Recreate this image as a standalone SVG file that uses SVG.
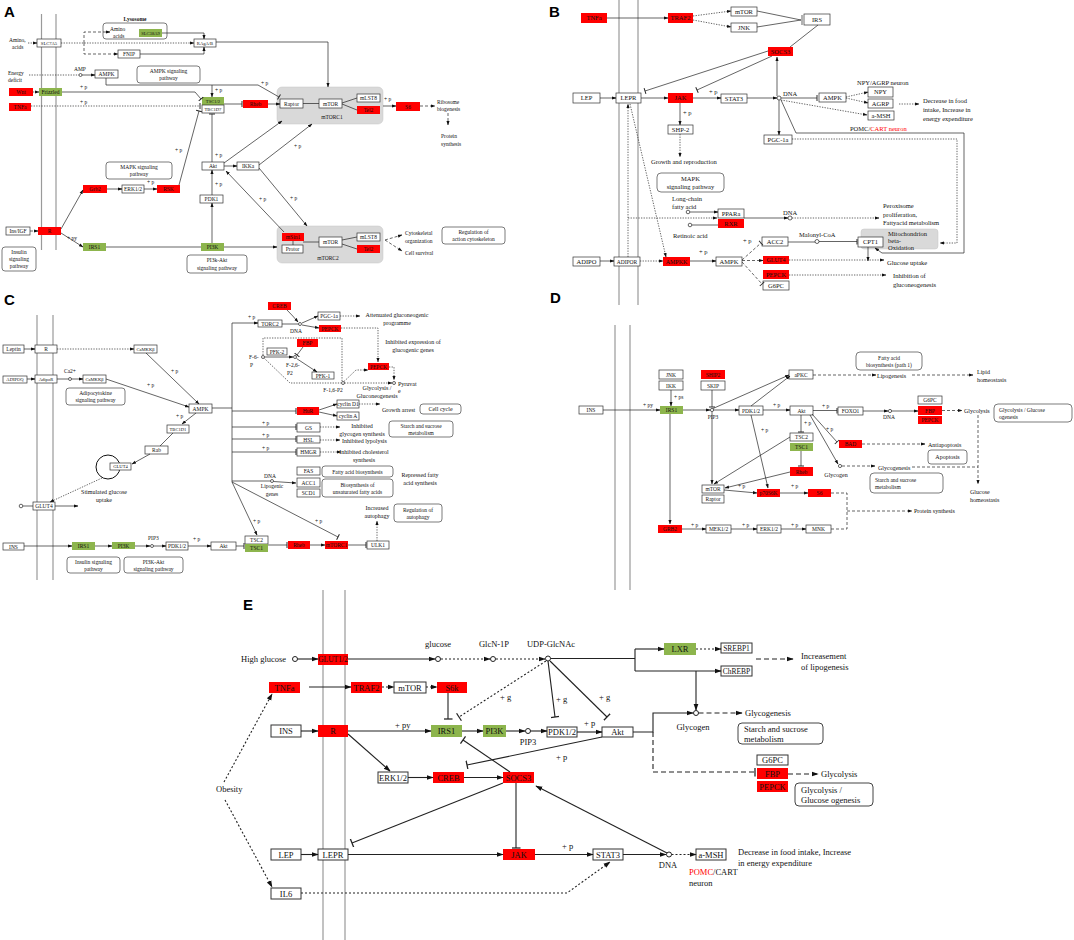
<svg xmlns="http://www.w3.org/2000/svg" width="1074" height="940" viewBox="0 0 1074 940">
<style>
text{font-family:"Liberation Serif","Times New Roman",serif;fill:#111}
.c{text-anchor:middle}
.s4{font-size:4.6px}.s5{font-size:5.5px}.s6{font-size:6px}.s65{font-size:6.5px}.s8{font-size:8.5px}.s7{font-size:7.5px}
.L{font-family:"Liberation Sans",Arial,sans-serif;font-weight:bold;font-size:15px;fill:#000}
.w{fill:#fff;stroke:#333;stroke-width:.7}
.we{fill:#fff;stroke:#333;stroke-width:1}
.r{fill:#f00}.g{fill:#8db54d}
.gb{fill:#d9d9d9;stroke:#c4c4c4;stroke-width:.5}
.rb{fill:#fff;stroke:#444;stroke-width:.7}
.rbe{fill:#fff;stroke:#444;stroke-width:1}
.ln{fill:none;stroke:#222;stroke-width:.7}
.le{fill:none;stroke:#222;stroke-width:1.1}
.dt{stroke-dasharray:1.3 1.3}
.ds{stroke-dasharray:3 2}
.dte{stroke-dasharray:2 2}
.dse{stroke-dasharray:5 3}
.mem{stroke:#9a9a9a;stroke-width:1.2;fill:none}
.o{fill:#fff;stroke:#222;stroke-width:.7}
.oe{fill:#fff;stroke:#222;stroke-width:1}
.red{fill:#f00}
</style>
<defs>
<marker id="a" viewBox="0 0 10 10" refX="9" refY="5" markerWidth="4.5" markerHeight="4.5" markerUnits="userSpaceOnUse" orient="auto"><path d="M0,1.5L10,5L0,8.5z" fill="#111"/></marker>
<marker id="T" viewBox="0 0 10 10" refX="5" refY="5" markerWidth="6" markerHeight="6" markerUnits="userSpaceOnUse" orient="auto"><path d="M5,0V10" stroke="#222" stroke-width="1.6"/></marker>
<marker id="A2" viewBox="0 0 10 10" refX="9" refY="5" markerWidth="7" markerHeight="7" markerUnits="userSpaceOnUse" orient="auto"><path d="M0,1.5L10,5L0,8.5z" fill="#111"/></marker>
<marker id="T2" viewBox="0 0 10 10" refX="5" refY="5" markerWidth="9" markerHeight="9" markerUnits="userSpaceOnUse" orient="auto"><path d="M5,0V10" stroke="#222" stroke-width="1.4"/></marker>
</defs>
<rect width="1074" height="940" fill="#fff"/>

<!-- panel labels -->
<text class="L" x="4" y="17">A</text>
<text class="L" x="549" y="17">B</text>
<text class="L" x="4" y="305">C</text>
<text class="L" x="550" y="303">D</text>
<text class="L" x="243" y="610">E</text>

<!-- membranes -->
<g id="membranes">
<path class="mem" d="M41.5,14V250M56,14V250"/>
<path class="mem" d="M619,0V305M638,0V305"/>
<path class="mem" d="M37,315V580M53,315V580"/>
<path class="mem" d="M615,325V590M630,325V590"/>
<path class="mem" d="M323,590V940M345,590V940"/>
</g>

<!-- ================= PANEL A ================= -->
<g id="panelA-nodes">
<g id="A-lysosome"><text class="s5 c" x="135" y="21" font-weight="bold">Lysosome</text><rect class="rb" x="103" y="23" width="64" height="16" rx="3"/><text class="s5" x="110" y="31">Amino</text><text class="s5" x="113" y="37.5">acids</text></g>
<g id="A-SLC38A9"><rect class="g" x="139" y="29" width="23" height="8"/><text class="s4 c" x="150.5" y="34.7">SLC38A9</text></g>
<g id="A-SLC7A5"><rect class="w" x="37" y="39" width="24" height="8"/><text class="s4 c" x="49" y="44.7">SLC7A5</text></g>
<g id="A-RAgAB"><rect class="w" x="194" y="39" width="22" height="8"/><text class="s4 c" x="205" y="44.7">RAgA/B</text></g>
<g id="A-FNIP"><rect class="w" x="118" y="50" width="22" height="8"/><text class="s5 c" x="129" y="56">FNIP</text></g>
<g id="A-AMPK"><rect class="w" x="95" y="70" width="23" height="8"/><text class="s5 c" x="106.5" y="76">AMPK</text></g>
<g id="A-AMPKsig"><rect class="rb" x="137" y="66" width="63" height="17" rx="3"/><text class="s5 c" x="168.5" y="73">AMPK signaling</text><text class="s5 c" x="168.5" y="80">pathway</text></g>
<g id="A-Wnt"><rect class="r" x="9" y="88" width="24" height="8"/><text class="s5 c" x="21" y="94">Wnt</text></g>
<g id="A-Frizzled"><rect class="g" x="39" y="88" width="23" height="8"/><text class="s5 c" x="50.5" y="94">Frizzled</text></g>
<g id="A-TNFa"><rect class="r" x="9" y="103" width="22" height="8"/><text class="s5 c" x="20" y="109">TNFa</text></g>
<g id="A-TSC12"><rect class="g" x="202" y="97" width="22" height="8"/><text class="s4 c" x="213" y="102.7">TSC1/2</text></g>
<g id="A-TBC1D7"><rect class="w" x="202" y="105" width="22" height="8"/><text class="s4 c" x="213" y="110.7">TBC1D7</text></g>
<g id="A-Rheb"><rect class="r" x="243" y="100" width="25" height="8"/><text class="s5 c" x="255.5" y="106">Rheb</text></g>
<g id="A-Akt"><rect class="w" x="202" y="162" width="22" height="8"/><text class="s5 c" x="213" y="168">Akt</text></g>
<g id="A-IKKa"><rect class="w" x="237" y="162" width="22" height="8"/><text class="s5 c" x="248" y="168">IKKa</text></g>
<g id="A-PDK1"><rect class="w" x="200" y="195" width="23" height="8"/><text class="s5 c" x="211.5" y="201">PDK1</text></g>
<g id="A-PI3K"><rect class="g" x="201" y="243" width="23" height="8"/><text class="s5 c" x="212.5" y="249">PI3K</text></g>
<g id="A-IRS1"><rect class="g" x="83" y="243" width="23" height="8"/><text class="s5 c" x="94.5" y="249">IRS1</text></g>
<g id="A-Grb2"><rect class="r" x="83" y="185" width="24" height="8"/><text class="s5 c" x="95" y="191">Grb2</text></g>
<g id="A-ERK"><rect class="w" x="122" y="185" width="22" height="8"/><text class="s5 c" x="133" y="191">ERK1/2</text></g>
<g id="A-RSK"><rect class="r" x="157" y="185" width="23" height="8"/><text class="s5 c" x="168.5" y="191">RSK</text></g>
<g id="A-MAPKsig"><rect class="rb" x="106" y="162" width="66" height="17" rx="3"/><text class="s5 c" x="139" y="169">MAPK signaling</text><text class="s5 c" x="139" y="176">pathway</text></g>
<g id="A-InsIGF"><rect class="w" x="6" y="227" width="24" height="8"/><text class="s5 c" x="18" y="233">Ins/IGF</text></g>
<g id="A-R"><rect class="r" x="38" y="227" width="23" height="8"/><text class="s5 c" x="49.5" y="233">R</text></g>
<g id="A-Insig"><rect class="rb" x="2" y="247" width="34" height="24" rx="3"/><text class="s5 c" x="19" y="254">Insulin</text><text class="s5 c" x="19" y="261">signaling</text><text class="s5 c" x="19" y="268">pathway</text></g>
<g id="A-PI3kAkt"><rect class="rb" x="187" y="255" width="60" height="18" rx="3"/><text class="s5 c" x="217" y="262">PI3k-Akt</text><text class="s5 c" x="217" y="269.5">signaling pathway</text></g>
<g id="A-mTORC1"><rect class="gb" x="277" y="87" width="106" height="37" rx="5"/><text class="s5 c" x="332" y="119">mTORC1</text>
<rect class="w" x="280" y="99" width="23" height="9"/><text class="s5 c" x="291.5" y="105.5">Raptor</text>
<rect class="w" x="319" y="99" width="23" height="9"/><text class="s5 c" x="330.5" y="105.5">mTOR</text>
<rect class="w" x="357" y="94" width="23" height="8"/><text class="s5 c" x="368.5" y="100">mLST8</text>
<rect class="r" x="357" y="106" width="23" height="8"/><text class="s5 c" x="368.5" y="112">Tel2</text></g>
<g id="A-S6"><rect class="r" x="396" y="102" width="24" height="9"/><text class="s5 c" x="408" y="108.5">S6</text></g>
<g id="A-mTORC2"><rect class="gb" x="277" y="226" width="106" height="37" rx="5"/><text class="s5 c" x="328" y="259.5">mTORC2</text>
<rect class="r" x="282" y="233" width="22" height="8"/><text class="s5 c" x="293" y="239">mSin1</text>
<rect class="w" x="282" y="245" width="21" height="8"/><text class="s5 c" x="292.5" y="251">Protor</text>
<rect class="w" x="319" y="237" width="23" height="10"/><text class="s5 c" x="330.5" y="244">mTOR</text>
<rect class="w" x="357" y="233" width="23" height="8"/><text class="s5 c" x="368.5" y="239">mLST8</text>
<rect class="r" x="357" y="245" width="23" height="8"/><text class="s5 c" x="368.5" y="251">Tel2</text></g>
<g id="A-Regcyto"><rect class="rb" x="442" y="227" width="63" height="17" rx="3"/><text class="s5 c" x="473.5" y="234">Regulation of</text><text class="s5 c" x="473.5" y="241">action  cytoskeleton</text></g>
</g>
<g id="panelA-texts">
<text class="s5" x="9" y="42">Amino,</text><text class="s5" x="12" y="49">acids</text>
<text class="s5" x="8" y="75">Energy</text><text class="s5" x="8" y="82">deficit</text>
<text class="s5" x="74" y="71">AMP</text>
<text class="s5" x="80" y="89">+ p</text><text class="s5" x="80" y="104">+ p</text>
<text class="s5" x="215" y="92">+ p</text><text class="s5" x="261" y="85">+ p</text>
<text class="s5" x="175" y="152">+ p</text><text class="s5" x="147" y="184">+ p</text>
<text class="s5" x="215" y="157">+ p</text><text class="s5" x="215" y="186">+ p</text>
<text class="s5" x="294" y="148">+ p</text><text class="s5" x="290" y="200">+ p</text><text class="s5" x="259" y="201">+ p</text>
<text class="s5" x="67" y="240">+ py</text>
<text class="s5" x="384" y="101">+ p</text>
<text class="s5" x="437" y="104">Ribosome</text><text class="s5" x="437" y="111">biogenesis</text>
<text class="s5" x="441" y="138">Protein</text><text class="s5" x="441" y="146">synthesis</text>
<text class="s5" x="405" y="235">Cytoskeletal</text><text class="s5" x="405" y="242.5">organization</text>
<text class="s5" x="405" y="255">Cell survival</text>
</g>

<!-- ================= PANEL B ================= -->
<g id="panelB-nodes">
<g id="B-TNFa"><rect class="r" x="581" y="13" width="26" height="10"/><text class="s65 c" x="594" y="20.3">TNFa</text></g>
<g id="B-TRAF2"><rect class="r" x="668" y="13" width="25" height="10"/><text class="s65 c" x="680.5" y="20.3">TRAF2</text></g>
<g id="B-mTOR"><rect class="w" x="731" y="7" width="26" height="9"/><text class="s65 c" x="744" y="13.8">mTOR</text></g>
<g id="B-JNK"><rect class="w" x="731" y="23" width="26" height="9"/><text class="s65 c" x="744" y="29.8">JNK</text></g>
<g id="B-IRS"><rect class="w" x="804" y="14" width="26" height="11"/><text class="s65 c" x="817" y="21.8">IRS</text></g>
<g id="B-SOCS3"><rect class="r" x="768" y="47" width="25" height="9"/><text class="s65 c" x="780.5" y="53.8">SOCS3</text></g>
<g id="B-LEP"><rect class="w" x="573" y="93" width="27" height="10"/><text class="s65 c" x="586.5" y="100.3">LEP</text></g>
<g id="B-LEPR"><rect class="w" x="616" y="93" width="25" height="10"/><text class="s65 c" x="628.5" y="100.3">LEPR</text></g>
<g id="B-JAK"><rect class="r" x="668" y="93" width="25" height="10"/><text class="s65 c" x="680.5" y="100.3">JAK</text></g>
<g id="B-STAT3"><rect class="w" x="721" y="94" width="26" height="9"/><text class="s65 c" x="734" y="100.8">STAT3</text></g>
<g id="B-AMPK"><rect class="w" x="819" y="93" width="27" height="9"/><text class="s65 c" x="832.5" y="99.8">AMPK</text></g>
<g id="B-NPY"><rect class="w" x="868" y="87" width="25" height="10"/><text class="s65 c" x="880.5" y="94.3">NPY</text></g>
<g id="B-AGRP"><rect class="w" x="868" y="99" width="25" height="9"/><text class="s65 c" x="880.5" y="105.8">AGRP</text></g>
<g id="B-aMSH"><rect class="w" x="868" y="111" width="26" height="9"/><text class="s65 c" x="881" y="117.8">a-MSH</text></g>
<g id="B-PGC1a"><rect class="w" x="764" y="135" width="28" height="9"/><text class="s65 c" x="778" y="141.8">PGC-1a</text></g>
<g id="B-SHP2"><rect class="w" x="668" y="125" width="25" height="9"/><text class="s65 c" x="680.5" y="131.8">SHP-2</text></g>
<g id="B-MAPK"><rect class="rb" x="657" y="173" width="67" height="19" rx="4"/><text class="s65 c" x="690.5" y="181">MAPK</text><text class="s65 c" x="690.5" y="189">signaling pathway</text></g>
<g id="B-PPARa"><rect class="w" x="718" y="209" width="26" height="9"/><text class="s65 c" x="731" y="215.8">PPARa</text></g>
<g id="B-RXR"><rect class="r" x="718" y="219" width="26" height="9"/><text class="s65 c" x="731" y="225.8">RXR</text></g>
<g id="B-Mito"><rect class="gb" x="861" y="229" width="77" height="20" rx="3"/><text class="s65" x="888" y="236">Mitochondrion</text><text class="s65" x="888" y="242.5">beta-</text><text class="s65" x="888" y="250">Oxidation</text></g>
<g id="B-CPT1"><rect class="w" x="858" y="237" width="25" height="10"/><text class="s65 c" x="870.5" y="244.3">CPT1</text></g>
<g id="B-ACC2"><rect class="w" x="762" y="237" width="26" height="9"/><text class="s65 c" x="775" y="243.8">ACC2</text></g>
<g id="B-ADIPO"><rect class="w" x="573" y="257" width="27" height="9"/><text class="s65 c" x="586.5" y="263.8">ADIPO</text></g>
<g id="B-ADIPOR"><rect class="w" x="614" y="257" width="26" height="9"/><text class="s5 c" x="627" y="263.5">ADIPOR</text></g>
<g id="B-AMPKK"><rect class="r" x="663" y="257" width="27" height="9"/><text class="s6 c" x="676.5" y="263.5">AMPKK</text></g>
<g id="B-AMPK2"><rect class="w" x="716" y="257" width="26" height="9"/><text class="s65 c" x="729" y="263.8">AMPK</text></g>
<g id="B-GLUT4"><rect class="r" x="763" y="256" width="26" height="8"/><text class="s6 c" x="776" y="262.2">GLUT4</text></g>
<g id="B-PEPCK"><rect class="r" x="763" y="270" width="26" height="9"/><text class="s65 c" x="776" y="276.8">PEPCK</text></g>
<g id="B-G6PC"><rect class="w" x="763" y="281" width="26" height="9"/><text class="s65 c" x="776" y="287.8">G6PC</text></g>
</g>
<g id="panelB-texts">
<text class="s65" x="709" y="94">+ p</text>
<text class="s65" x="783" y="96">DNA</text>
<text class="s65" x="857" y="85">NPY/AGRP  neuron</text>
<text class="s65" x="923" y="103">Decrease in food</text><text class="s65" x="923" y="112">intake, Increase in</text><text class="s65" x="923" y="121">energy expenditure</text>
<text class="s65" x="850" y="131">POMC/<tspan class="red">CART  neuron</tspan></text>
<text class="s65" x="683" y="115">+ p</text>
<text class="s65" x="651" y="164">Growth and reproduction</text>
<text class="s65" x="672" y="201">Long-chain</text><text class="s65" x="672" y="209">fatty acid</text>
<text class="s65" x="673" y="238">Retinoic acid</text>
<text class="s65" x="783" y="215">DNA</text>
<text class="s65" x="883" y="208">Peroxisome</text><text class="s65" x="883" y="216.5">proliferation,</text><text class="s65" x="883" y="225">Fattyacid metabolism</text>
<text class="s65" x="799" y="237">Malonyl-CoA</text>
<text class="s65" x="743" y="243">+ p</text>
<text class="s65" x="699" y="254">+ p</text>
<text class="s65" x="887" y="265">Glucose uptake</text>
<text class="s65" x="893" y="278">Inhibition of</text><text class="s65" x="893" y="287">gluconeogenesis</text>
</g>

<!-- ================= PANEL C ================= -->
<g id="panelC-nodes">
<g id="C-Leptin"><rect class="w" x="3" y="345" width="21" height="8"/><text class="s5 c" x="13.5" y="351">Leptin</text></g>
<g id="C-R"><rect class="w" x="35" y="345" width="22" height="8"/><text class="s5 c" x="46" y="351">R</text></g>
<g id="C-CaMKKb1"><rect class="w" x="134" y="345" width="23" height="8"/><text class="s4 c" x="145.5" y="350.7">CaMKKβ</text></g>
<g id="C-ADIPOQ"><rect class="w" x="3" y="376" width="24" height="7"/><text class="s4 c" x="15" y="381.2">ADIPOQ</text></g>
<g id="C-AdipoR"><rect class="w" x="35" y="375" width="22" height="8"/><text class="s4 c" x="46" y="380.7">AdipoR</text></g>
<g id="C-CaMKKb2"><rect class="w" x="83" y="375" width="23" height="8"/><text class="s4 c" x="94.5" y="380.7">CaMKKβ</text></g>
<g id="C-Adipo"><rect class="rb" x="66" y="388" width="59" height="17" rx="3"/><text class="s5 c" x="95.5" y="395">Adipocytokine</text><text class="s5 c" x="95.5" y="402">signaling pathway</text></g>
<g id="C-AMPK"><rect class="w" x="189" y="404" width="23" height="9"/><text class="s5 c" x="200.5" y="410.5">AMPK</text></g>
<g id="C-TBC1D1"><rect class="w" x="167" y="425" width="22" height="8"/><text class="s4 c" x="178" y="430.7">TBC1D1</text></g>
<g id="C-Rab"><rect class="w" x="145" y="446" width="23" height="8"/><text class="s5 c" x="156.5" y="452">Rab</text></g>
<g id="C-GLUT4v"><circle cx="108" cy="467" r="12" fill="none" stroke="#111" stroke-width="1"/><rect class="w" x="110" y="463" width="21" height="7"/><text class="s4 c" x="120.5" y="468.3">GLUT4</text></g>
<g id="C-GLUT4m"><rect class="w" x="33" y="502" width="22" height="8"/><text class="s5 c" x="44" y="508">GLUT4</text></g>
<g id="C-INS"><rect class="w" x="3" y="543" width="21" height="7"/><text class="s5 c" x="13.5" y="548.5">INS</text></g>
<g id="C-IRS1"><rect class="g" x="72" y="542" width="23" height="8"/><text class="s5 c" x="83.5" y="548">IRS1</text></g>
<g id="C-PI3K"><rect class="g" x="112" y="542" width="23" height="7"/><text class="s5 c" x="123.5" y="547.5">PI3K</text></g>
<g id="C-PDK12"><rect class="w" x="166" y="542" width="22" height="8"/><text class="s5 c" x="177" y="548">PDK1/2</text></g>
<g id="C-Akt"><rect class="w" x="211" y="542" width="25" height="8"/><text class="s5 c" x="223.5" y="548">Akt</text></g>
<g id="C-TSC"><rect class="w" x="245" y="536" width="23" height="8"/><text class="s5 c" x="256.5" y="542">TSC2</text><rect class="g" x="245" y="544" width="23" height="8"/><text class="s5 c" x="256.5" y="550">TSC1</text></g>
<g id="C-Inssig"><rect class="rb" x="67" y="557" width="53" height="16" rx="3"/><text class="s5 c" x="93.5" y="564">Insulin signaling</text><text class="s5 c" x="93.5" y="571">pathway</text></g>
<g id="C-PI3KAkt"><rect class="rb" x="124" y="557" width="59" height="16" rx="3"/><text class="s5 c" x="153.5" y="564">PI3K-Akt</text><text class="s5 c" x="153.5" y="571">signaling pathway</text></g>
<g id="C-TORC2"><rect class="w" x="258" y="320" width="24" height="7"/><text class="s5 c" x="270" y="325.5">TORC2</text></g>
<g id="C-CREB"><rect class="r" x="268" y="302" width="23" height="8"/><text class="s5 c" x="279.5" y="308">CREB</text></g>
<g id="C-PGC1a"><rect class="w" x="318" y="312" width="22" height="8"/><text class="s5 c" x="329" y="318">PGC-1a</text></g>
<g id="C-PEPCK1"><rect class="r" x="319" y="325" width="22" height="7"/><text class="s5 c" x="330" y="330.5">PEPCK</text></g>
<g id="C-PFK2"><rect class="w" x="267" y="348" width="20" height="7"/><text class="s5 c" x="277" y="353.5">PFK-2</text></g>
<g id="C-FBP"><rect class="r" x="297" y="339" width="21" height="8"/><text class="s5 c" x="307.5" y="345">FBP</text></g>
<g id="C-PFK1"><rect class="w" x="312" y="372" width="22" height="7"/><text class="s5 c" x="323" y="377.5">PFK-1</text></g>
<g id="C-PEPCK2"><rect class="r" x="368" y="363" width="21" height="7"/><text class="s5 c" x="378.5" y="368.5">PEPCK</text></g>
<g id="C-HuR"><rect class="r" x="297" y="407" width="22" height="8"/><text class="s5 c" x="308" y="413">HuR</text></g>
<g id="C-cyclinD1"><rect class="w" x="337" y="400" width="22" height="8"/><text class="s5 c" x="348" y="406">cyclin D1</text></g>
<g id="C-cyclinA"><rect class="w" x="337" y="412" width="22" height="8"/><text class="s5 c" x="348" y="418">cyclin A</text></g>
<g id="C-Cellcycle"><rect class="rb" x="420" y="404" width="41" height="10" rx="3"/><text class="s6 c" x="440.5" y="411">Cell cycle</text></g>
<g id="C-GS"><rect class="w" x="297" y="423" width="23" height="9"/><text class="s5 c" x="308.5" y="429.5">GS</text></g>
<g id="C-Starch"><rect class="rb" x="389" y="421" width="64" height="16" rx="3"/><text class="s5 c" x="421" y="428">Starch and sucrose</text><text class="s5 c" x="421" y="435">metabolism</text></g>
<g id="C-HSL"><rect class="w" x="297" y="436" width="23" height="7"/><text class="s5 c" x="308.5" y="441.5">HSL</text></g>
<g id="C-HMGR"><rect class="w" x="297" y="448" width="23" height="8"/><text class="s5 c" x="308.5" y="454">HMGR</text></g>
<g id="C-FAS"><rect class="w" x="297" y="467" width="23" height="8"/><text class="s5 c" x="308.5" y="473">FAS</text></g>
<g id="C-ACC1"><rect class="w" x="297" y="478" width="23" height="9"/><text class="s5 c" x="308.5" y="484.5">ACC1</text></g>
<g id="C-SCD1"><rect class="w" x="297" y="489" width="23" height="8"/><text class="s5 c" x="308.5" y="495">SCD1</text></g>
<g id="C-FAbio"><rect class="rb" x="322" y="466" width="71" height="11" rx="3"/><text class="s5 c" x="357.5" y="473.5">Fatty acid biosynthesis</text></g>
<g id="C-UFA"><rect class="rb" x="322" y="479" width="71" height="18" rx="3"/><text class="s5 c" x="357.5" y="486.5">Biosynthesis of</text><text class="s5 c" x="357.5" y="494">unsaturated fatty acids</text></g>
<g id="C-Rheb"><rect class="r" x="288" y="541" width="22" height="8"/><text class="s5 c" x="299" y="547">Rheb</text></g>
<g id="C-mTORC1"><rect class="r" x="325" y="541" width="23" height="8"/><text class="s5 c" x="336.5" y="547">mTORC1</text></g>
<g id="C-ULK1"><rect class="w" x="367" y="541" width="22" height="8"/><text class="s5 c" x="378" y="547">ULK1</text></g>
<g id="C-Regauto"><rect class="rb" x="394" y="504" width="48" height="18" rx="3"/><text class="s5 c" x="418" y="511.5">Regulation of</text><text class="s5 c" x="418" y="519">autophagy</text></g>
</g>
<g id="panelC-texts">
<text class="s5" x="64" y="373">Ca2+</text>
<text class="s5" x="171" y="373">+ p</text><text class="s5" x="147" y="387">+ p</text><text class="s5" x="176" y="418">+ p</text>
<text class="s6 c" x="104" y="494">Stimulated glucose</text><text class="s6 c" x="104" y="502">uptake</text>
<text class="s5" x="148" y="540">PIP3</text><text class="s5" x="193" y="541">+ p</text>
<text class="s5" x="248" y="319">+ p</text>
<text class="s5 c" x="296" y="333">DNA</text>
<text class="s6 c" x="397" y="317">Attenuated gluconeogenic</text><text class="s6 c" x="397" y="325">programme</text>
<text class="s6 c" x="413" y="344">Inhibited expression of</text><text class="s6 c" x="413" y="352">glucogenic genes</text>
<text class="s5" x="249" y="359">F-6-</text><text class="s5" x="250" y="366.5">P</text>
<text class="s5" x="286" y="367">F-2,6-</text><text class="s5" x="287" y="374.5">P2</text>
<text class="s5 c" x="333" y="392">F-1,6-P2</text>
<text class="s6" x="398" y="386">Pyruvat</text><text class="s6" x="398" y="393">e</text>
<text class="s6 c" x="377" y="390">Glycolysis /</text><text class="s6 c" x="377" y="397.5">Gluconeogenesis</text>
<text class="s6" x="382" y="412">Growth arrest</text>
<text class="s5" x="262" y="425">+ p</text><text class="s5" x="262" y="437">+ p</text><text class="s5" x="262" y="450">+ p</text>
<text class="s6 c" x="362" y="428">Inhibited</text><text class="s6 c" x="362" y="436">glycogen synthesis</text>
<text class="s6" x="342" y="443">Inhibited lypolysis</text>
<text class="s6 c" x="364" y="454">Inhibited cholesterol</text><text class="s6 c" x="364" y="462">synthesis</text>
<text class="s5 c" x="270" y="478">DNA</text><text class="s5 c" x="272" y="488">Lipogenic</text><text class="s5 c" x="272" y="495.5">genes</text>
<text class="s6 c" x="420" y="477">Repressed fatty</text><text class="s6 c" x="420" y="485">acid synthesis</text>
<text class="s5" x="253" y="523">+ p</text><text class="s5" x="315" y="523">+ p</text>
<text class="s6 c" x="377" y="510">Increased</text><text class="s6 c" x="377" y="518">autophagy</text>
</g>

<!-- ================= PANEL D ================= -->
<g id="panelD-nodes">
<g id="D-INS"><rect class="w" x="579" y="406" width="24" height="8"/><text class="s5 c" x="591" y="412">INS</text></g>
<g id="D-IRS1"><rect class="g" x="660" y="406" width="23" height="8"/><text class="s5 c" x="671.5" y="412">IRS1</text></g>
<g id="D-JNK"><rect class="w" x="659" y="370" width="24" height="9"/><text class="s5 c" x="671" y="376.5">JNK</text></g>
<g id="D-IKK"><rect class="w" x="659" y="381" width="24" height="9"/><text class="s5 c" x="671" y="387.5">IKK</text></g>
<g id="D-SHIP2"><rect class="r" x="701" y="370" width="24" height="9"/><text class="s5 c" x="713" y="376.5">SHIP2</text></g>
<g id="D-SKIP"><rect class="w" x="701" y="381" width="24" height="9"/><text class="s5 c" x="713" y="387.5">SKIP</text></g>
<g id="D-PDK12"><rect class="w" x="739" y="406" width="24" height="9"/><text class="s5 c" x="751" y="412.5">PDK1/2</text></g>
<g id="D-aPKC"><rect class="w" x="789" y="370" width="24" height="9"/><text class="s5 c" x="801" y="376.5">aPKC</text></g>
<g id="D-FAbio"><rect class="rb" x="856" y="352" width="66" height="18" rx="4"/><text class="s5 c" x="889" y="359.5">Fatty acid</text><text class="s5 c" x="889" y="367">biosynthesis (path 1)</text></g>
<g id="D-Akt"><rect class="w" x="790" y="406" width="23" height="9"/><text class="s5 c" x="801.5" y="412.5">Akt</text></g>
<g id="D-FOXO1"><rect class="w" x="838" y="407" width="25" height="8"/><text class="s5 c" x="850.5" y="413">FOXO1</text></g>
<g id="D-G6PC"><rect class="w" x="918" y="396" width="24" height="8"/><text class="s5 c" x="930" y="402">G6PC</text></g>
<g id="D-FBP"><rect class="r" x="918" y="406" width="24" height="9"/><text class="s5 c" x="930" y="412.5">FBP</text></g>
<g id="D-PEPCK"><rect class="r" x="918" y="416" width="24" height="8"/><text class="s5 c" x="930" y="422">PEPCK</text></g>
<g id="D-Glyco"><rect class="rb" x="994" y="404" width="78" height="18" rx="4"/><text class="s5" x="999" y="411.5">Glycolysis / Glucose</text><text class="s5" x="999" y="419">ogenesis</text></g>
<g id="D-BAD"><rect class="r" x="839" y="440" width="23" height="8"/><text class="s5 c" x="850.5" y="446">BAD</text></g>
<g id="D-Apoptosis"><rect class="rb" x="928" y="450" width="39" height="14" rx="3"/><text class="s6 c" x="947.5" y="459">Apoptosis</text></g>
<g id="D-Starch"><rect class="rb" x="870" y="473" width="73" height="20" rx="4"/><text class="s5" x="875" y="481.5">Starch and sucrose</text><text class="s5" x="875" y="489">metabolism</text></g>
<g id="D-TSC"><rect class="w" x="790" y="433" width="23" height="8"/><text class="s5 c" x="801.5" y="439">TSC2</text><rect class="g" x="790" y="443" width="23" height="8"/><text class="s5 c" x="801.5" y="449">TSC1</text></g>
<g id="D-Rheb"><rect class="r" x="790" y="467" width="23" height="9"/><text class="s5 c" x="801.5" y="473.5">Rheb</text></g>
<g id="D-mTOR"><rect class="w" x="702" y="485" width="22" height="8"/><text class="s5 c" x="713" y="491">mTOR</text><rect class="w" x="702" y="495" width="22" height="8"/><text class="s5 c" x="713" y="501">Raptor</text></g>
<g id="D-p70S6K"><rect class="r" x="757" y="489" width="23" height="8"/><text class="s5 c" x="768.5" y="495">p70S6K</text></g>
<g id="D-S6"><rect class="r" x="808" y="489" width="23" height="8"/><text class="s5 c" x="819.5" y="495">S6</text></g>
<g id="D-GRB2"><rect class="r" x="658" y="525" width="24" height="8"/><text class="s5 c" x="670" y="531">GRB2</text></g>
<g id="D-MEK"><rect class="w" x="706" y="525" width="25" height="8"/><text class="s5 c" x="718.5" y="531">MEK1/2</text></g>
<g id="D-ERK"><rect class="w" x="757" y="525" width="24" height="8"/><text class="s5 c" x="769" y="531">ERK1/2</text></g>
<g id="D-MNK"><rect class="w" x="806" y="525" width="25" height="8"/><text class="s5 c" x="818.5" y="531">MNK</text></g>
</g>
<g id="panelD-texts">
<text class="s5" x="643" y="407">+ py</text><text class="s5" x="674" y="399">+ ps</text>
<text class="s5 c" x="713" y="419">PIP3</text>
<text class="s5" x="773" y="407">+ p</text><text class="s5" x="822" y="408">+ p</text>
<text class="s6" x="877" y="377.5">Lipogenesis</text>
<text class="s6" x="977" y="374">Lipid</text><text class="s6" x="977" y="382">homeostasis</text>
<text class="s5 c" x="889" y="419">DNA</text>
<text class="s6" x="964" y="412.5">Glycolysis</text>
<text class="s6" x="970" y="494">Glucose</text><text class="s6" x="970" y="502">homeostasis</text>
<text class="s5" x="826" y="431">+ p</text><text class="s5" x="804" y="425">+ p</text>
<text class="s6" x="928" y="446.5">Antiapoptosis</text>
<text class="s6 c" x="836" y="477">Glycogen</text>
<text class="s6" x="878" y="469.5">Glycogenesis</text>
<text class="s5" x="738" y="488">+ p</text><text class="s5" x="761" y="432">+ p</text><text class="s5" x="791" y="488">+ p</text>
<text class="s6" x="914" y="512.5">Protein synthesis</text>
<text class="s5" x="691" y="527">+ p</text><text class="s5" x="742" y="527">+ p</text><text class="s5" x="791" y="527">+ p</text>
</g>

<!-- ================= PANEL E ================= -->
<g id="panelE-nodes">
<g id="E-GLUT12"><rect class="r" x="318" y="654" width="30" height="11"/><text class="s7 c" x="333" y="662">GLUT1/2</text></g>
<g id="E-LXR"><rect class="g" x="664" y="643" width="32" height="12"/><text class="s8 c" x="680" y="652">LXR</text></g>
<g id="E-SREBP1"><rect class="we" x="721" y="643" width="31" height="10"/><text class="s7 c" x="736.5" y="650.8">SREBP1</text></g>
<g id="E-ChREBP"><rect class="we" x="721" y="666" width="31" height="10"/><text class="s7 c" x="736.5" y="673.8">ChREBP</text></g>
<g id="E-Starch"><rect class="rbe" x="738" y="723" width="85" height="21" rx="4"/><text class="s8" x="744" y="731.5">Starch and sucrose</text><text class="s8" x="744" y="741.5">metabolism</text></g>
<g id="E-G6PC"><rect class="we" x="757" y="755" width="31" height="10"/><text class="s8 c" x="772.5" y="763">G6PC</text></g>
<g id="E-FBP"><rect class="r" x="757" y="768" width="31" height="11"/><text class="s8 c" x="772.5" y="776.5">FBP</text></g>
<g id="E-PEPCK"><rect class="r" x="757" y="781" width="31" height="11"/><text class="s8 c" x="772.5" y="789.5">PEPCK</text></g>
<g id="E-Glyco"><rect class="rbe" x="795" y="783" width="78" height="23" rx="4"/><text class="s8" x="801" y="793">Glycolysis /</text><text class="s8" x="801" y="803">Glucose ogenesis</text></g>
<g id="E-TNFa"><rect class="r" x="269" y="682" width="31" height="11"/><text class="s8 c" x="284.5" y="690.5">TNFa</text></g>
<g id="E-TRAF2"><rect class="r" x="351" y="682" width="31" height="11"/><text class="s8 c" x="366.5" y="690.5">TRAF2</text></g>
<g id="E-mTOR"><rect class="we" x="394" y="682" width="32" height="11"/><text class="s8 c" x="410" y="690.5">mTOR</text></g>
<g id="E-S6k"><rect class="r" x="437" y="682" width="30" height="11"/><text class="s8 c" x="452" y="690.5">S6k</text></g>
<g id="E-INS"><rect class="we" x="271" y="725" width="30" height="12"/><text class="s8 c" x="286" y="734">INS</text></g>
<g id="E-R"><rect class="r" x="318" y="725" width="30" height="12"/><text class="s8 c" x="333" y="734">R</text></g>
<g id="E-IRS1"><rect class="g" x="431" y="725" width="31" height="12"/><text class="s8 c" x="446.5" y="734">IRS1</text></g>
<g id="E-PI3K"><rect class="g" x="483" y="725" width="23" height="12"/><text class="s8 c" x="494.5" y="734">PI3K</text></g>
<g id="E-PDK12"><rect class="we" x="547" y="727" width="30" height="10"/><text class="s8 c" x="562" y="735">PDK1/2</text></g>
<g id="E-Akt"><rect class="we" x="602" y="727" width="31" height="10"/><text class="s8 c" x="617.5" y="735">Akt</text></g>
<g id="E-ERK12"><rect class="we" x="378" y="772" width="30" height="11"/><text class="s8 c" x="393" y="780.5">ERK1/2</text></g>
<g id="E-CREB"><rect class="r" x="433" y="772" width="31" height="11"/><text class="s8 c" x="448.5" y="780.5">CREB</text></g>
<g id="E-SOCS3"><rect class="r" x="503" y="772" width="31" height="11"/><text class="s8 c" x="518.5" y="780.5">SOCS3</text></g>
<g id="E-LEP"><rect class="we" x="271" y="849" width="30" height="11"/><text class="s8 c" x="286" y="857.5">LEP</text></g>
<g id="E-LEPR"><rect class="we" x="318" y="849" width="30" height="11"/><text class="s8 c" x="333" y="857.5">LEPR</text></g>
<g id="E-JAK"><rect class="r" x="503" y="849" width="32" height="11"/><text class="s8 c" x="519" y="857.5">JAK</text></g>
<g id="E-STAT3"><rect class="we" x="593" y="849" width="30" height="11"/><text class="s8 c" x="608" y="857.5">STAT3</text></g>
<g id="E-aMSH"><rect class="we" x="696" y="849" width="30" height="11"/><text class="s8 c" x="711" y="857.5">a-MSH</text></g>
<g id="E-IL6"><rect class="we" x="271" y="888" width="30" height="11"/><text class="s8 c" x="286" y="896.5">IL6</text></g>
</g>
<g id="panelE-texts">
<text class="s8" x="241" y="662">High glucose</text>
<text class="s8 c" x="438" y="647">glucose</text>
<text class="s8 c" x="494" y="647">GlcN-1P</text>
<text class="s8 c" x="551" y="647">UDP-GlcNAc</text>
<text class="s8" x="801" y="659">Increasement</text><text class="s8" x="801" y="670">of lipogenesis</text>
<text class="s8 c" x="693" y="730">Glycogen</text>
<text class="s8" x="745" y="716">Glycogenesis</text>
<text class="s8" x="821" y="777">Glycolysis</text>
<text class="s8" x="500" y="700">+ g</text><text class="s8" x="556" y="702">+ g</text><text class="s8" x="599" y="700">+ g</text>
<text class="s8 c" x="528" y="745">PIP3</text>
<text class="s8" x="584" y="726">+ p</text>
<text class="s8" x="395" y="728">+ py</text>
<text class="s8" x="556" y="760">+ p</text>
<text class="s8" x="216" y="792">Obesity</text>
<text class="s8" x="562" y="849">+ p</text>
<text class="s8 c" x="668" y="868">DNA</text>
<text class="s8" x="738" y="855">Decrease in food intake, Increase</text><text class="s8" x="738" y="866">in energy expenditure</text>
<text class="s8" x="689" y="875"><tspan class="red">POMC</tspan>/CART</text><text class="s8" x="689" y="886">neuron</text>
</g>

<!-- ================= CONNECTORS ================= -->
<g id="connectors">
<g id="conn-A">
<path class="ln dt" d="M28,43H37" marker-end="url(#a)"/>
<path class="ln dt" d="M61,43H194" marker-end="url(#a)"/>
<path class="ln ds" d="M84,43V32H110" marker-end="url(#a)"/>
<path class="ln ds" d="M84,43V54H118" marker-end="url(#a)"/>
<path class="ln" d="M162,33H204V39" marker-end="url(#a)"/>
<path class="ln" d="M140,54H204V47" marker-end="url(#a)"/>
<path class="ln" d="M216,42H328V87" marker-end="url(#a)"/>
<path class="ln dt" d="M29,75H79"/>
<circle class="o" cx="80.5" cy="75" r="1.5"/>
<path class="ln" d="M82,75H95" marker-end="url(#a)"/>
<path class="ln" d="M106,78V85H258L279,97" marker-end="url(#T)"/>
<path class="ln" d="M212,85V97" marker-end="url(#a)"/>
<path class="ln dt" d="M33,92H39" marker-end="url(#a)"/>
<path class="ln" d="M62,92H195L201,99" marker-end="url(#T)"/>
<path class="ln dt" d="M31,106H200" marker-end="url(#T)"/>
<path class="ln" d="M224,104H242" marker-end="url(#T)"/>
<path class="ln" d="M268,104H280" marker-end="url(#a)"/>
<path class="ln" d="M179,185L199,111" marker-end="url(#T)"/>
<path class="ln" d="M212,162V114" marker-end="url(#T)"/>
<path class="ln" d="M224,166H237" marker-end="url(#a)"/>
<path class="ln" d="M224,163L282,121" marker-end="url(#a)"/>
<path class="ln" d="M259,165L312,124" marker-end="url(#a)"/>
<path class="ln" d="M259,168L307,226" marker-end="url(#a)"/>
<path class="ln" d="M284,232L226,171" marker-end="url(#a)"/>
<path class="ln" d="M212,195V170" marker-end="url(#a)"/>
<path class="ln" d="M212,243V203" marker-end="url(#a)"/>
<path class="ln" d="M106,247H201"/>
<path class="ln" d="M224,247H277" marker-end="url(#a)"/>
<path class="ln" d="M107,189H122" marker-end="url(#a)"/>
<path class="ln" d="M144,189H157" marker-end="url(#a)"/>
<path class="ln ds" d="M30,231H38" marker-end="url(#a)"/>
<path class="ln" d="M61,229L83,190" marker-end="url(#a)"/>
<path class="ln" d="M61,233L83,247" marker-end="url(#a)"/>
<path class="ln" d="M303,103.5H319M342,103L357,98M342,104L357,110"/>
<path class="ln" d="M383,106H396" marker-end="url(#a)"/>
<path class="ln ds" d="M420,106H435" marker-end="url(#a)"/>
<path class="ln ds" d="M448,113V125" marker-end="url(#a)"/>
<path class="ln" d="M293,241V245M303,242H319M342,240L357,237M342,244L357,249"/>
<path class="ln ds" d="M385,240L402,235" marker-end="url(#a)"/>
<path class="ln ds" d="M385,240L402,251" marker-end="url(#a)"/>
</g>
<g id="conn-B">
<path class="ln" d="M607,18H668" marker-end="url(#a)"/>
<path class="ln dt" d="M693,16L731,11" marker-end="url(#a)"/>
<path class="ln dt" d="M693,20L731,27" marker-end="url(#a)"/>
<path class="ln" d="M757,11L801,20M757,27L801,20M802,15V25M818,25L790,47"/>
<path class="ln" d="M768,51L645,91" marker-end="url(#T)"/>
<path class="ln" d="M772,56L697,90" marker-end="url(#T)"/>
<path class="ln" d="M777,96V57" marker-end="url(#a)"/>
<path class="ln" d="M600,98H616" marker-end="url(#a)"/>
<path class="ln" d="M641,98H668" marker-end="url(#a)"/>
<path class="ln" d="M693,98H721" marker-end="url(#a)"/>
<path class="ln" d="M747,98H777" marker-end="url(#a)"/>
<circle class="o" cx="779" cy="98" r="2"/>
<path class="ln" d="M781,98H817" marker-end="url(#T)"/>
<path class="ln dt" d="M781,100L867,115" marker-end="url(#a)"/>
<path class="ln dt" d="M846,97L868,92" marker-end="url(#a)"/>
<path class="ln dt" d="M846,98L868,103" marker-end="url(#a)"/>
<path class="ln dt" d="M899,104H919" marker-end="url(#a)"/>
<path class="ln" d="M779,100V135" marker-end="url(#a)"/>
<path class="ln" d="M781,100L796,133H964V253H882L875,248" marker-end="url(#a)"/>
<path class="ln dt" d="M792,139H957V243H940" marker-end="url(#a)"/>
<path class="ln" d="M788,242H815"/>
<circle class="o" cx="817" cy="241.5" r="2"/>
<path class="ln" d="M819,241.5H857" marker-end="url(#T)"/>
<path class="ln" d="M868,247V261" marker-end="url(#a)"/>
<path class="ln" d="M600,261H614" marker-end="url(#a)"/>
<path class="ln dt" d="M640,261H663" marker-end="url(#a)"/>
<path class="ln" d="M690,261H716" marker-end="url(#a)"/>
<path class="ln ds" d="M742,260L761,243" marker-end="url(#T)"/>
<path class="ln ds" d="M742,260.5H763" marker-end="url(#a)"/>
<path class="ln ds" d="M742,262L762,284" marker-end="url(#T)"/>
<path class="ln dt" d="M789,260H884" marker-end="url(#a)"/>
<path class="ln dt" d="M789,275H886" marker-end="url(#a)"/>
<path class="ln dt" d="M628,257V104" marker-end="url(#a)"/>
<path class="ln dt" d="M630,104L666,257" marker-end="url(#a)"/>
<path class="ln dt" d="M628,218H717" marker-end="url(#a)"/>
<circle class="o" cx="688" cy="212" r="1.8"/>
<path class="ln" d="M690,212H718" marker-end="url(#a)"/>
<circle class="o" cx="690" cy="225" r="1.8"/>
<path class="ln" d="M692,225H718"/>
<path class="ln" d="M744,218H788" marker-end="url(#a)"/>
<circle class="o" cx="790" cy="218" r="2"/>
<path class="ln dt" d="M792,218H879" marker-end="url(#a)"/>
<path class="ln" d="M680,103V125" marker-end="url(#a)"/>
<path class="ln dt" d="M680,134V157" marker-end="url(#a)"/>
</g>
<g id="conn-C">
<path class="ln" d="M24,349H35" marker-end="url(#a)"/>
<path class="ln dt" d="M57,349H134" marker-end="url(#a)"/>
<path class="ln" d="M27,379H35" marker-end="url(#a)"/>
<path class="ln" d="M57,379H68.5"/>
<circle class="o" cx="70" cy="379" r="1.5"/>
<path class="ln" d="M71.5,379H83" marker-end="url(#a)"/>
<path class="ln" d="M146,353L199,404" marker-end="url(#a)"/>
<path class="ln" d="M106,379L189,407" marker-end="url(#a)"/>
<path class="ln" d="M196,413L182,424" marker-end="url(#a)"/>
<path class="ln" d="M173,433L160,446"/>
<path class="ln" d="M150,454L132,464" marker-end="url(#a)"/>
<path class="ln dt" d="M102,478L50,502" marker-end="url(#a)"/>
<circle class="o" cx="21" cy="506" r="1.8"/>
<path class="ln" d="M23,506H33"/>
<path class="ln" d="M55,506H78" marker-end="url(#a)"/>
<path class="ln" d="M24,546H72" marker-end="url(#a)"/>
<path class="ln" d="M95,546H112" marker-end="url(#a)"/>
<path class="ln" d="M135,546H150" marker-end="url(#a)"/>
<circle class="o" cx="152" cy="546" r="1.5"/>
<path class="ln" d="M153.5,546H166" marker-end="url(#a)"/>
<path class="ln" d="M188,546H211" marker-end="url(#a)"/>
<path class="ln" d="M236,546H244" marker-end="url(#T)"/>
<path class="ln" d="M212,408H232M232,323V482"/>
<path class="ln" d="M232,323H258" marker-end="url(#a)"/>
<path class="ln" d="M287,310Q293,316 298,322" marker-end="url(#a)"/>
<path class="ln" d="M282,324H298.5"/>
<circle class="o" cx="300" cy="324" r="1.5"/>
<path class="ln" d="M302,323L318,316" marker-end="url(#a)"/>
<path class="ln" d="M302,325L319,328" marker-end="url(#a)"/>
<path class="ln dt" d="M340,316H360" marker-end="url(#a)"/>
<path class="ln dt" d="M341,328H378V362" marker-end="url(#a)"/>
<path class="ln dt" d="M263,355V338H342V381"/>
<path class="ln dt" d="M264.5,358.5L290,383H341"/>
<circle class="o" cx="263" cy="357" r="1.5"/>
<path class="ln" d="M264.5,357H293" marker-end="url(#a)"/>
<circle class="o" cx="295" cy="357" r="1.5"/>
<path class="ln" d="M303,347L297,355" marker-end="url(#T)"/>
<path class="ln" d="M296.5,358.5L317,372" marker-end="url(#a)"/>
<circle class="o" cx="343" cy="383" r="1.5"/>
<path class="ln dt" d="M344,381.5L356,370H368" marker-end="url(#a)"/>
<path class="ln dt" d="M389,367H394V380" marker-end="url(#a)"/>
<path class="ln dt" d="M344.5,383H392" marker-end="url(#a)"/>
<circle class="o" cx="394" cy="383" r="1.5"/>
<path class="ln" d="M232,411H296" marker-end="url(#T)"/>
<path class="ln" d="M319,410L337,404" marker-end="url(#a)"/>
<path class="ln" d="M319,412L337,416" marker-end="url(#a)"/>
<path class="ln dt" d="M359,404H380" marker-end="url(#a)"/>
<path class="ln" d="M232,427H296" marker-end="url(#T)"/>
<path class="ln dt" d="M320,427H340" marker-end="url(#a)"/>
<path class="ln" d="M232,439H296" marker-end="url(#T)"/>
<path class="ln dt" d="M320,440H340" marker-end="url(#a)"/>
<path class="ln" d="M232,452H296" marker-end="url(#T)"/>
<path class="ln dt" d="M320,452H341" marker-end="url(#a)"/>
<path class="ln" d="M232,481H270.5"/>
<circle class="o" cx="272" cy="481" r="1.5"/>
<path class="ln" d="M273.5,481.5L296,483" marker-end="url(#a)"/>
<path class="ln" d="M232,482L257,535" marker-end="url(#a)"/>
<path class="ln" d="M232,482L338,537" marker-end="url(#T)"/>
<path class="ln" d="M268,545H287" marker-end="url(#T)"/>
<path class="ln" d="M310,545H325" marker-end="url(#a)"/>
<path class="ln" d="M348,545H366" marker-end="url(#T)"/>
<path class="ln dt" d="M377,541V521" marker-end="url(#a)"/>
</g>
<g id="conn-D">
<path class="ln" d="M603,410H660" marker-end="url(#a)"/>
<path class="ln" d="M671,390V406" marker-end="url(#a)"/>
<path class="ln" d="M712,390V407" marker-end="url(#T)"/>
<path class="ln" d="M683,410H710" marker-end="url(#a)"/>
<circle class="o" cx="712" cy="410" r="1.6"/>
<path class="ln" d="M713.6,410H739" marker-end="url(#a)"/>
<path class="ln" d="M713,408.5L789,375" marker-end="url(#a)"/>
<path class="ln" d="M751,406L790,376" marker-end="url(#a)"/>
<path class="ln ds" d="M813,375H876" marker-end="url(#a)"/>
<path class="ln ds" d="M912,375H973" marker-end="url(#a)"/>
<path class="ln" d="M763,410H790" marker-end="url(#a)"/>
<path class="ln" d="M813,410.5H837" marker-end="url(#T)"/>
<path class="ln" d="M863,411H888" marker-end="url(#a)"/>
<circle class="o" cx="890" cy="411" r="1.6"/>
<path class="ln" d="M891.6,411H918" marker-end="url(#a)"/>
<path class="ln ds" d="M942,410.5H962" marker-end="url(#a)"/>
<path class="ln ds" d="M978,415V484" marker-end="url(#a)"/>
<path class="ln" d="M812,414L837,442" marker-end="url(#T)"/>
<path class="ln ds" d="M862,444H925" marker-end="url(#a)"/>
<path class="ln" d="M810,415L838,464" marker-end="url(#a)"/>
<circle class="o" cx="840" cy="466" r="1.6"/>
<path class="ln ds" d="M842,466H875" marker-end="url(#a)"/>
<path class="ln ds" d="M912,467H978"/>
<path class="ln" d="M801,415V432" marker-end="url(#T)"/>
<path class="ln" d="M801,451V466" marker-end="url(#T)"/>
<path class="ln" d="M790,472L725,488" marker-end="url(#a)"/>
<path class="ln" d="M790,437L714,484" marker-end="url(#a)"/>
<path class="ln" d="M712,412V484" marker-end="url(#a)"/>
<path class="ln" d="M724,490L757,493" marker-end="url(#a)"/>
<path class="ln" d="M751,415L768,488" marker-end="url(#a)"/>
<path class="ln" d="M780,493H808" marker-end="url(#a)"/>
<path class="ln ds" d="M831,493H847V529H831"/>
<path class="ln ds" d="M847,511H912" marker-end="url(#a)"/>
<path class="ln" d="M670,414V524" marker-end="url(#a)"/>
<path class="ln" d="M682,529H706" marker-end="url(#a)"/>
<path class="ln" d="M731,529H757" marker-end="url(#a)"/>
<path class="ln" d="M781,529H806" marker-end="url(#a)"/>
</g>
<g id="conn-E">
<circle class="oe" cx="295" cy="659" r="2.5"/>
<path class="le" d="M297.5,659H318" marker-end="url(#A2)"/>
<path class="le" d="M348,659H435" marker-end="url(#A2)"/>
<circle class="oe" cx="438" cy="659" r="2.5"/>
<path class="le dte" d="M441,659H490" marker-end="url(#A2)"/>
<circle class="oe" cx="493" cy="659" r="2.5"/>
<path class="le dte" d="M496,659H545" marker-end="url(#A2)"/>
<circle class="oe" cx="548" cy="658.5" r="2.5"/>
<path class="le" d="M550.5,658.5H635M635,649V671"/>
<path class="le" d="M635,649H664" marker-end="url(#A2)"/>
<path class="le" d="M635,671H721" marker-end="url(#A2)"/>
<path class="le dte" d="M696,649H721" marker-end="url(#A2)"/>
<path class="le" d="M696,671V710" marker-end="url(#A2)"/>
<circle class="oe" cx="696" cy="713" r="2.5"/>
<path class="le dse" d="M756,659H793" marker-end="url(#A2)"/>
<path class="le dse" d="M698.5,713H742" marker-end="url(#A2)"/>
<path class="le" d="M633,732H653V713H693" marker-end="url(#A2)"/>
<path class="le dse" d="M653,732V772H755" marker-end="url(#T2)"/>
<path class="le dse" d="M788,774H818" marker-end="url(#A2)"/>
<path class="le" d="M309,687H351" marker-end="url(#A2)"/>
<path class="le dte" d="M382,687H394" marker-end="url(#A2)"/>
<path class="le dte" d="M426,687H437" marker-end="url(#A2)"/>
<path class="le" d="M448,693V719" marker-end="url(#T2)"/>
<path class="le" d="M462,731H483" marker-end="url(#A2)"/>
<path class="le" d="M506,731H525" marker-end="url(#A2)"/>
<circle class="oe" cx="528" cy="731" r="2.5"/>
<path class="le" d="M530.5,731H547" marker-end="url(#A2)"/>
<path class="le" d="M577,732H602" marker-end="url(#A2)"/>
<path class="le" d="M548,661L555,717" marker-end="url(#T2)"/>
<path class="le" d="M550,661L607,717" marker-end="url(#T2)"/>
<path class="le dte" d="M546,661L459,717" marker-end="url(#T2)"/>
<path class="le" d="M301,731H318" marker-end="url(#A2)"/>
<path class="le" d="M348,731H431" marker-end="url(#A2)"/>
<path class="le" d="M348,734L390,771" marker-end="url(#A2)"/>
<path class="le" d="M408,777.5H433" marker-end="url(#A2)"/>
<path class="le" d="M464,777.5H503" marker-end="url(#A2)"/>
<path class="le" d="M602,737L467,765" marker-end="url(#T2)"/>
<path class="le" d="M510,772L463,740" marker-end="url(#T2)"/>
<path class="le" d="M503,783L352,843" marker-end="url(#T2)"/>
<path class="le" d="M516,783V848" marker-end="url(#T2)"/>
<path class="le" d="M667,853L536,786" marker-end="url(#A2)"/>
<path class="le" d="M301,854.5H318" marker-end="url(#A2)"/>
<path class="le" d="M348,854.5H503" marker-end="url(#A2)"/>
<path class="le" d="M535,854.5H593" marker-end="url(#A2)"/>
<path class="le" d="M623,854.5H666" marker-end="url(#A2)"/>
<circle class="oe" cx="669" cy="854.5" r="2.5"/>
<path class="le dte" d="M671.5,854.5H696" marker-end="url(#A2)"/>
<path class="le dte" d="M301,893H567L610,862" marker-end="url(#A2)"/>
<path class="le dte" d="M224,782L272,694" marker-end="url(#A2)"/>
<path class="le dte" d="M225,800L272,887" marker-end="url(#A2)"/>
</g>
</g>
</svg>
